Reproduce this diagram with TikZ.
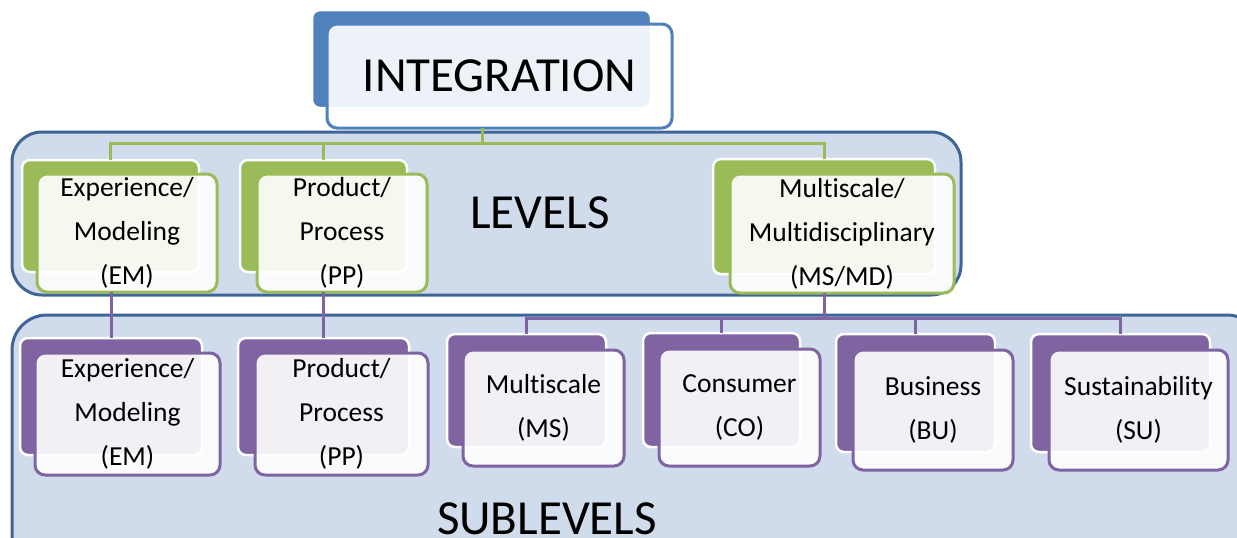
\documentclass[tikz,border=0pt]{standalone}
\usepackage{fontspec}
\setmainfont[Ligatures={NoCommon}]{Carlito}
\definecolor{cblue}{HTML}{4F81BD}
\definecolor{cgreen}{HTML}{9BBB59}
\definecolor{cpurple}{HTML}{8064A2}
\definecolor{contf}{HTML}{D0DBEB}
\definecolor{contb}{HTML}{3F6597}
\newcommand{\lbfont}{\fontsize{27.5}{44}\selectfont}
\newcommand{\bigfont}{\fontsize{49}{58}\selectfont}
\begin{document}
\begin{tikzpicture}[x=1pt,y=-1pt,
  container/.style={draw=contb, fill=contf, line width=3pt, rounded corners=30pt},
  sz/.style 2 args={minimum width=#1pt, minimum height=#2pt},
  bk/.style={draw=white, fill=#1, line width=2.5pt, rounded corners=8pt, inner sep=0pt, outer sep=0pt, anchor=north west},
  fr/.style={draw=#1, fill=white, fill opacity=0.9, text opacity=1, line width=3pt, rounded corners=10pt, inner sep=0pt, outer sep=0pt, anchor=north west, align=center, font=\lbfont, text=black},
  gline/.style={draw=cgreen, line width=3pt},
  pline/.style={draw=cpurple, line width=3pt},
  bigtext/.style={font=\bigfont, text=black, anchor=base, inner sep=0pt}
]
\clip (0,0) rectangle (1237,538);
\fill[white] (0,0) rectangle (1237,538);

% containers
\draw[container] (12,132) rectangle (961,295);
\draw[container, rounded corners=35pt] (12,315) rectangle (1262,590);

% bus coordinates
\coordinate (gbus) at (482,143);
\coordinate (pbus) at (824,318);

% back boxes
\node[bk=cblue, sz={339}{98}] (intbk) at (312,10) {};
\node[bk=cgreen, sz={177}{112}] (lembk) at (22,160) {};
\node[bk=cgreen, sz={167}{112}] (lppbk) at (240,160) {};
\node[bk=cgreen, sz={222}{115}] (lmmbk) at (713,159) {};
\node[bk=cpurple, sz={182}{117}] (sembk) at (20,338) {};
\node[bk=cpurple, sz={171}{117}] (sppbk) at (238,338) {};
\node[bk=cpurple, sz={159}{113}] (smsbk) at (447,334) {};
\node[bk=cpurple, sz={157}{114}] (scobk) at (643,333) {};
\node[bk=cpurple, sz={159}{118}] (sbubk) at (836,334) {};
\node[bk=cpurple, sz={179}{118}] (ssubk) at (1031,334) {};

% front boxes
\node[fr=cblue, sz={345}{104}, font=\bigfont] (intfr) at (327,24) {INTEGRATION};
\node[fr=cgreen, sz={180}{118}] (lemfr) at (37,174) {Experience/\\Modeling\\(EM)};
\node[fr=cgreen, sz={170}{118}] (lppfr) at (257,174) {Product/\\Process\\(PP)};
\node[fr=cgreen, sz={224}{119}] (lmmfr) at (730,174) {Multiscale/\\Multidisciplinary\\(MS/MD)};
\node[fr=cpurple, sz={185}{122}] (semfr) at (35,353) {Experience/\\Modeling\\(EM)};
\node[fr=cpurple, sz={173}{122}] (sppfr) at (255,353) {Product/\\Process\\(PP)};
\node[fr=cpurple, sz={161}{116}] (smsfr) at (463,350) {Multiscale\\(MS)};
\node[fr=cpurple, sz={161}{117}] (scofr) at (659,349) {Consumer\\(CO)};
\node[fr=cpurple, sz={160}{120}] (sbufr) at (853,350) {Business\\(BU)};
\node[fr=cpurple, sz={179}{120}] (ssufr) at (1049,350) {Sustainability\\(SU)};

% connectors
\draw[gline] (intfr.south -| gbus) -- (gbus);
\draw[gline] (gbus) -| (lembk.north);
\draw[gline] (gbus) -| (lppbk.north);
\draw[gline] (gbus) -| (lmmbk.north);
\draw[pline] (lemfr.south -| sembk.north) -- (sembk.north);
\draw[pline] (lppfr.south -| sppbk.north) -- (sppbk.north);
\draw[pline] (lmmfr.south -| pbus) -- (pbus);
\draw[pline] (pbus) -| (smsbk.north);
\draw[pline] (pbus) -| (scobk.north);
\draw[pline] (pbus) -| (sbubk.north);
\draw[pline] (pbus) -| (ssubk.north);

% container titles
\node[bigtext] (levels) at (540,228) {LEVELS};
\node[bigtext] (sublevels) at (547,534) {SUBLEVELS};
\end{tikzpicture}
\end{document}
